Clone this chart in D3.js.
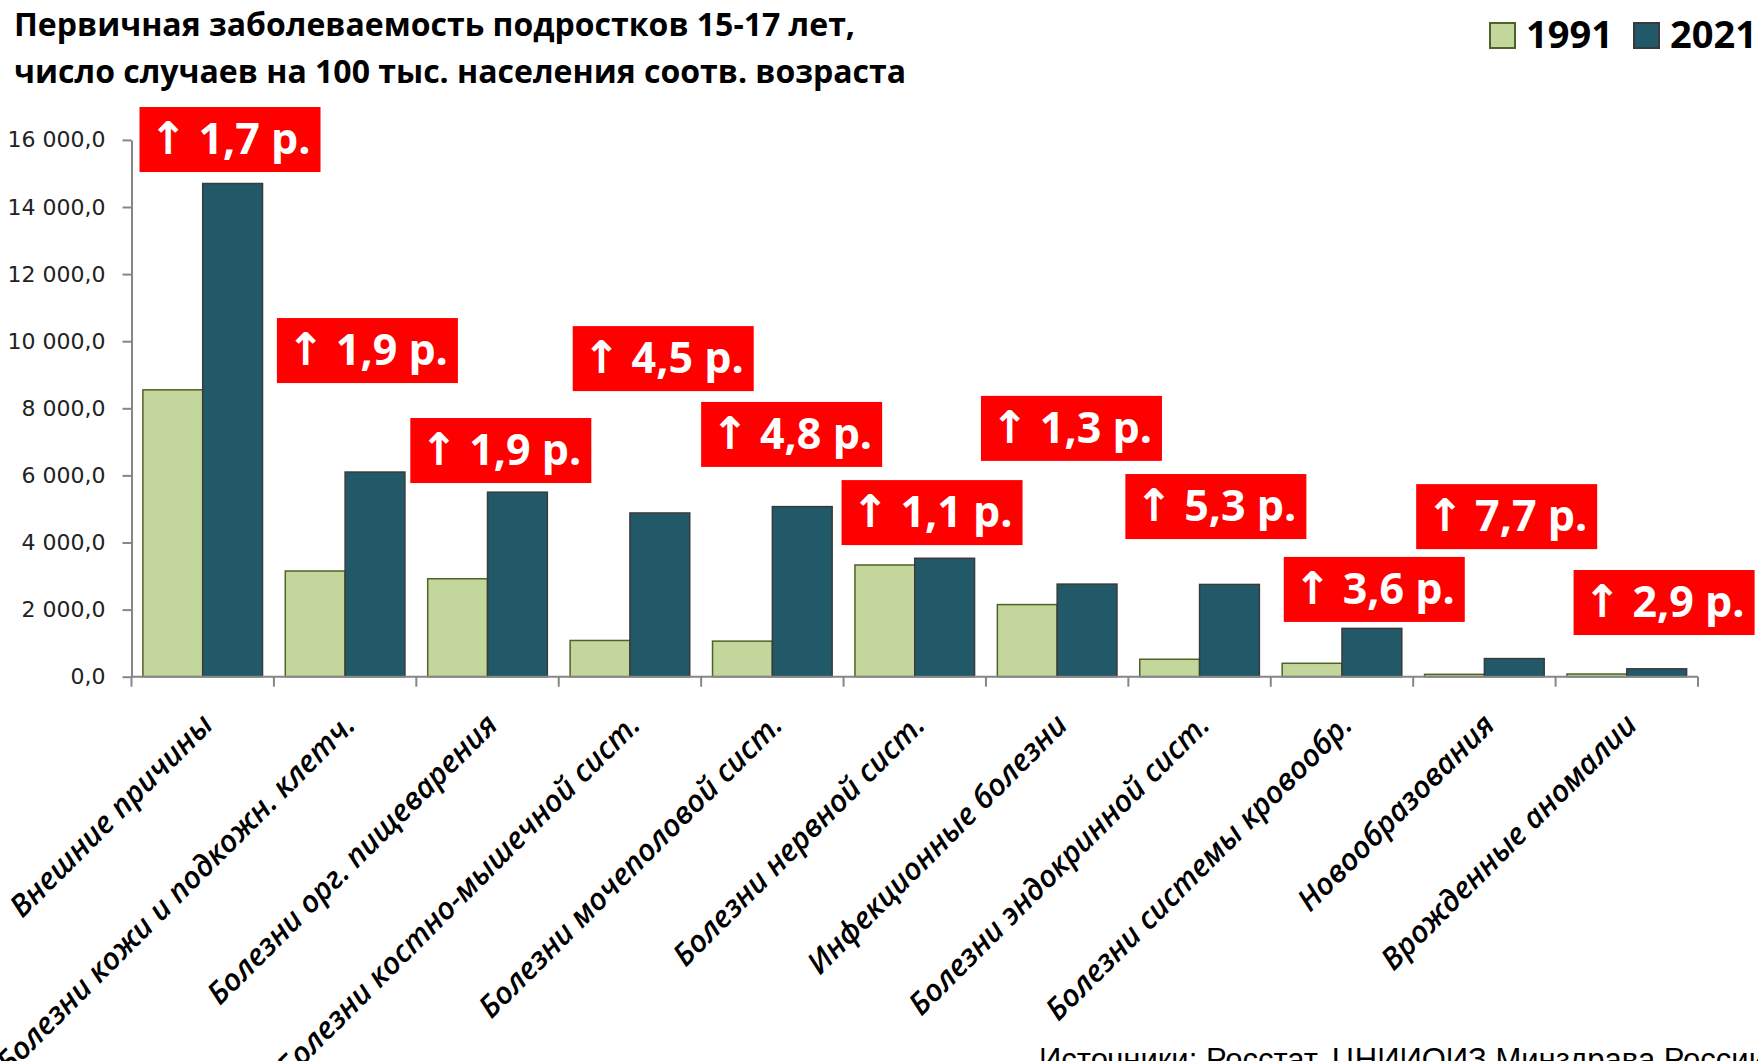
<!DOCTYPE html>
<html>
<head>
<meta charset="utf-8">
<script src="https://cdn.jsdelivr.net/npm/d3@7"></script>
<style>
  html, body { margin: 0; padding: 0; background: #fff; }
  svg { display: block; }
</style>
</head>
<body>
<div id="chart"></div>
<script>
// data
const categories = [
  "Внешние причины",
  "Болезни кожи и подкожн. клетч.",
  "Болезни орг. пищеварения",
  "Болезни костно-мышечной сист.",
  "Болезни мочеполовой сист.",
  "Болезни нервной сист.",
  "Инфекционные болезни",
  "Болезни эндокринной сист.",
  "Болезни системы кровообр.",
  "Новообразования",
  "Врожденные аномалии"
];
const series = ["1991", "2021"];
const values1991 = [8550, 3150, 2920, 1080, 1060, 3330, 2150, 520, 400, 70, 80];
const values2021 = [14700, 6100, 5500, 4880, 5070, 3530, 2760, 2750, 1440, 540, 235];
const growth = ["1,7", "1,9", "1,9", "4,5", "4,8", "1,1", "1,3", "5,3", "3,6", "7,7", "2,9"];
const yTicks = [0, 2000, 4000, 6000, 8000, 10000, 12000, 14000, 16000];

// where the red callouts sit (top edge in data units, shift in px from band start)
const calloutTop = [16980, 10690, 7710, 10450, 8190, 5860, 8370, 6040, 3570, 5740, 3180];
const calloutShift = [8, 3, -6, 14, 0, -2, -5, -3, 13, 3, 18];

const W = 1758, H = 1061;
const plot = { left: 131.5, right: 1698, top: 139.9, bottom: 676.7 };
const colors = { "1991": "#c3d69b", "2021": "#215968" };
const strokes = { "1991": "#4f6228", "2021": "#3a3a3a" };

const svg = d3.select("#chart").append("svg")
  .attr("width", W).attr("height", H)
  .attr("viewBox", [0, 0, W, H]);

const x0 = d3.scaleBand()
  .domain(categories)
  .range([plot.left, plot.right])
  .paddingInner(0.16)
  .paddingOuter(0.08);
const x1 = d3.scaleBand().domain(series).range([0, x0.bandwidth()]);
const y = d3.scaleLinear().domain([0, 16000]).range([plot.bottom, plot.top]);

const ru = d3.formatLocale({ decimal: ",", thousands: " ", grouping: [3], currency: ["", ""] });
const fmt = ru.format(",.1f");

// title
const title = svg.append("g")
  .attr("font-family", "'Open Sans', sans-serif")
  .attr("font-weight", "bold")
  .attr("font-size", 32)
  .attr("fill", "#000");
title.append("text").attr("x", 14).attr("y", 36)
  .text("Первичная заболеваемость подростков 15-17 лет,");
title.append("text").attr("x", 14).attr("y", 83)
  .text("число случаев на 100 тыс. населения соотв. возраста");

// legend
const legend = svg.append("g");
series.forEach((s, i) => {
  const lx = [1490, 1634][i];
  legend.append("rect")
    .attr("x", lx).attr("y", 23).attr("width", 25).attr("height", 25)
    .attr("fill", colors[s]).attr("stroke", strokes[s]).attr("stroke-width", 2);
  legend.append("text")
    .attr("x", lx + 36).attr("y", 48)
    .attr("font-family", "'Open Sans', sans-serif")
    .attr("font-weight", "bold").attr("font-size", 38)
    .text(s);
});

// y axis
const yAxis = svg.append("g")
  .attr("transform", `translate(${plot.left},0)`)
  .call(d3.axisLeft(y).tickValues(yTicks).tickFormat(fmt).tickSize(9).tickSizeOuter(0).tickPadding(17));
yAxis.select(".domain").attr("stroke", "#868686").attr("stroke-width", 2);
yAxis.selectAll(".tick line").attr("stroke", "#868686").attr("stroke-width", 2);
yAxis.selectAll(".tick text")
  .attr("font-family", "'DejaVu Sans', sans-serif")
  .attr("font-size", 22)
  .attr("fill", "#222");

// bars
const groups = svg.append("g").selectAll("g")
  .data(categories)
  .join("g")
  .attr("transform", d => `translate(${x0(d)},0)`);

groups.selectAll("rect")
  .data((d, i) => [
    { key: "1991", value: values1991[i] },
    { key: "2021", value: values2021[i] }
  ])
  .join("rect")
  .attr("x", d => x1(d.key))
  .attr("y", d => y(d.value))
  .attr("width", x1.bandwidth())
  .attr("height", d => y(0) - y(d.value))
  .attr("fill", d => colors[d.key])
  .attr("stroke", d => strokes[d.key])
  .attr("stroke-width", 1.5);

// x axis with ticks between categories
const xAxis = svg.append("g");
xAxis.append("line")
  .attr("x1", plot.left).attr("x2", plot.right)
  .attr("y1", y(0)).attr("y2", y(0))
  .attr("stroke", "#868686").attr("stroke-width", 2);
const step = x0.step();
const bounds = d3.range(categories.length + 1).map(i => plot.left + i * step);
xAxis.selectAll("line.tick")
  .data(bounds)
  .join("line")
  .attr("class", "tick")
  .attr("x1", d => d).attr("x2", d => d)
  .attr("y1", y(0)).attr("y2", y(0) + 10)
  .attr("stroke", "#868686").attr("stroke-width", 2);

// category labels
xAxis.selectAll("text")
  .data(categories)
  .join("text")
  .attr("transform", d => `translate(${x0(d) + x0.bandwidth() / 2 + 12},${y(0) + 50}) rotate(-45)`)
  .attr("text-anchor", "end")
  .attr("font-family", "'Open Sans', sans-serif")
  .attr("font-style", "italic")
  .attr("font-weight", 600)
  .attr("font-size", 30.5)
  .attr("fill", "#000")
  .text(d => d);

// red callouts
const callouts = svg.append("g").selectAll("g")
  .data(categories)
  .join("g")
  .attr("transform", (d, i) => `translate(${x0(d) - x0.paddingOuter() * step + calloutShift[i]},${y(calloutTop[i])})`);
callouts.append("rect")
  .attr("width", 181).attr("height", 65)
  .attr("fill", "#ff0000");
const ct = callouts.append("text")
  .attr("x", 10).attr("y", 47)
  .attr("font-family", "'Open Sans', sans-serif")
  .attr("font-weight", "bold")
  .attr("font-size", 43)
  .attr("fill", "#fff");
ct.append("tspan")
  .attr("font-family", "'DejaVu Sans', sans-serif")
  .attr("font-size", 45)
  .text("↑");
ct.append("tspan")
  .text((d, i) => ` ${growth[i]} р.`);

// source
svg.append("text")
  .attr("x", 1039).attr("y", 1070)
  .attr("font-family", "'Liberation Sans', sans-serif")
  .attr("font-size", 31)
  .attr("fill", "#000")
  .text("Источники: Росстат, ЦНИИОИЗ Минздрава России");
</script>
</body>
</html>
